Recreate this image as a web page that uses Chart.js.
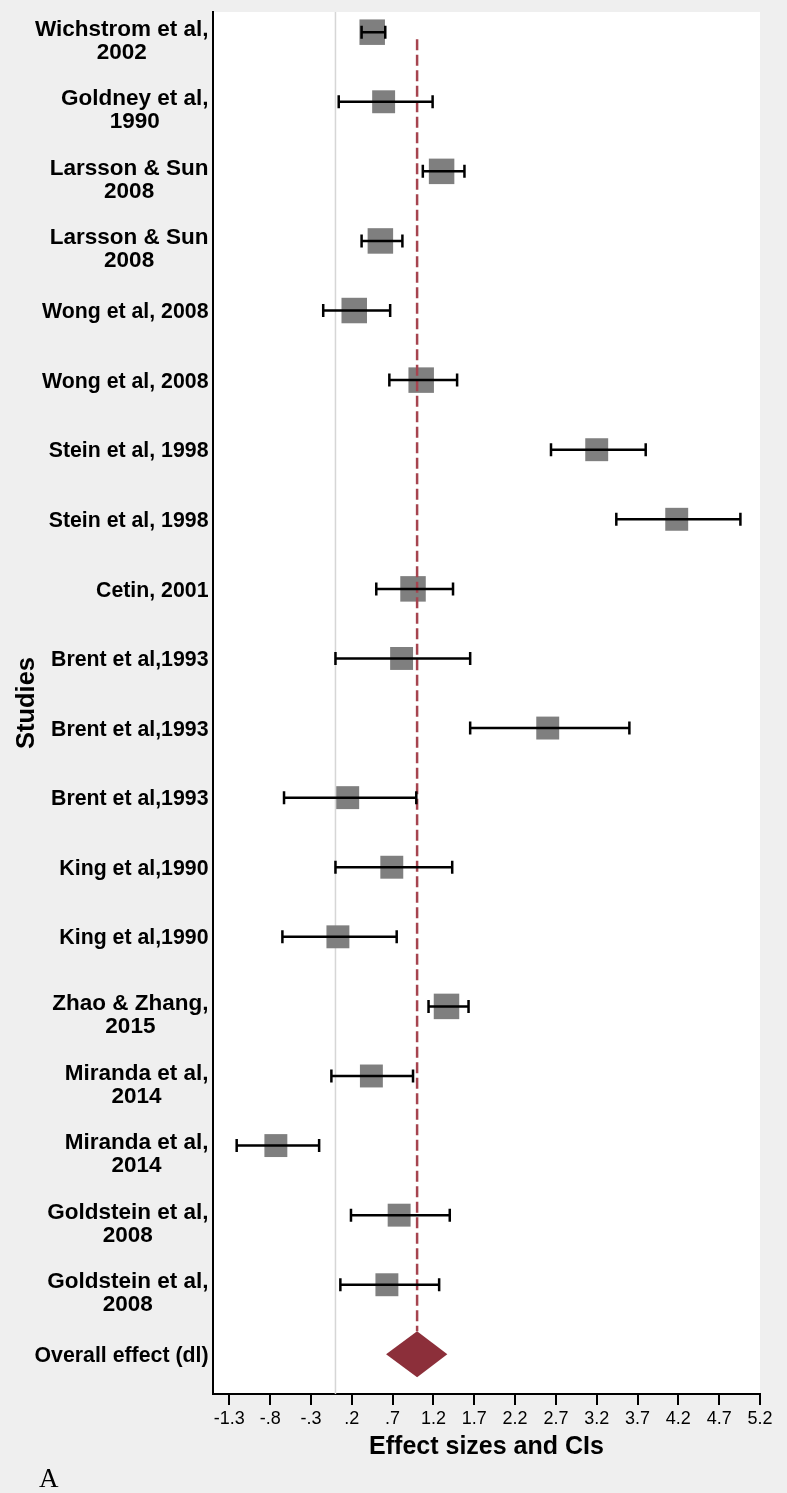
<!DOCTYPE html>
<html>
<head>
<meta charset="utf-8">
<script src="https://cdn.jsdelivr.net/npm/chart.js@4.4.1/dist/chart.umd.min.js"></script>
<style>
  html, body { margin: 0; padding: 0; background: #efefef; }
  #wrap { width: 787px; height: 1493px; }
</style>
</head>
<body>
<div id="wrap"><canvas id="c" width="787" height="1493"></canvas></div>
<script>
// ---------------- DATA ----------------
const studyLabels = [
  ["Wichstrom et al,", "2002"],
  ["Goldney et al,", "1990"],
  ["Larsson & Sun", "2008"],
  ["Larsson & Sun", "2008"],
  ["Wong et al, 2008"],
  ["Wong et al, 2008"],
  ["Stein et al, 1998"],
  ["Stein et al, 1998"],
  ["Cetin, 2001"],
  ["Brent et al,1993"],
  ["Brent et al,1993"],
  ["Brent et al,1993"],
  ["King et al,1990"],
  ["King et al,1990"],
  ["Zhao & Zhang,", "2015"],
  ["Miranda et al,", "2014"],
  ["Miranda et al,", "2014"],
  ["Goldstein et al,", "2008"],
  ["Goldstein et al,", "2008"]
];
const estimates = [0.45, 0.59, 1.30, 0.55, 0.23, 1.05, 3.20, 4.18, 0.95, 0.81, 2.60, 0.15, 0.69, 0.03, 1.36, 0.44, -0.73, 0.78, 0.63];
const lowerCI   = [0.32, 0.04, 1.07, 0.32, -0.15, 0.66, 2.64, 3.44, 0.50, 0.00, 1.65, -0.63, 0.00, -0.65, 1.14, -0.05, -1.21, 0.19, 0.06];
const upperCI   = [0.61, 1.19, 1.58, 0.82, 0.67, 1.49, 3.80, 4.96, 1.44, 1.65, 3.60, 0.99, 1.43, 0.75, 1.63, 0.95, -0.20, 1.40, 1.27];
const weights   = [6.0, 4.85, 6.0, 6.0, 6.0, 6.0, 4.85, 4.85, 6.0, 4.85, 4.85, 4.85, 4.85, 4.85, 6.0, 4.85, 4.85, 4.85, 4.85];

const overallLabel = "Overall effect (dl)";
const overallEstimate = 1.00;
const overallLower = 0.62;
const overallUpper = 1.37;

const xTickValues = [-1.3, -0.8, -0.3, 0.2, 0.7, 1.2, 1.7, 2.2, 2.7, 3.2, 3.7, 4.2, 4.7, 5.2];
const xTickLabels = ["-1.3", "-.8", "-.3", ".2", ".7", "1.2", "1.7", "2.2", "2.7", "3.2", "3.7", "4.2", "4.7", "5.2"];

const xTitle = "Effect sizes and CIs";
const yTitle = "Studies";
const panelLetter = "A";

// ---------------- STYLE ----------------
const SANS = '"Liberation Sans", Arial, Helvetica, sans-serif';
const SERIF = '"Liberation Serif", "Times New Roman", serif';
const boxSide = w => 10.41 * Math.sqrt(w);

const forestPlugin = {
  id: 'forest',
  beforeDraw(chart) {
    const { ctx, chartArea: a, width, height } = chart;
    ctx.save();
    ctx.fillStyle = '#efefef';
    ctx.fillRect(0, 0, width, height);
    ctx.fillStyle = '#ffffff';
    ctx.fillRect(a.left, a.top, a.right - a.left, a.bottom - a.top);
    ctx.restore();
  },
  beforeDatasetsDraw(chart) {
    const { ctx, chartArea: a, scales: { x } } = chart;
    const px = x.getPixelForValue(0);
    ctx.save();
    ctx.strokeStyle = '#d6d6d6';
    ctx.lineWidth = 1.5;
    ctx.beginPath();
    ctx.moveTo(px, a.top);
    ctx.lineTo(px, a.bottom);
    ctx.stroke();
    ctx.restore();
  },
  afterDatasetsDraw(chart) {
    const { ctx, scales: { x, y } } = chart;
    const overallRow = studyLabels.length + 1;
    const halfH = 0.33;

    // dashed line at the overall effect
    ctx.save();
    ctx.strokeStyle = '#a6444f';
    ctx.lineWidth = 2.5;
    ctx.setLineDash([11, 4.5]);
    const rx = x.getPixelForValue(overallEstimate);
    ctx.beginPath();
    ctx.moveTo(rx, y.getPixelForValue(1.1));
    ctx.lineTo(rx, y.getPixelForValue(overallRow - halfH));
    ctx.stroke();
    ctx.restore();

    // confidence-interval whiskers
    ctx.save();
    ctx.strokeStyle = '#000';
    ctx.lineWidth = 2.5;
    estimates.forEach((e, i) => {
      const py = y.getPixelForValue(i + 1);
      const x0 = x.getPixelForValue(lowerCI[i]);
      const x1 = x.getPixelForValue(upperCI[i]);
      ctx.beginPath();
      ctx.moveTo(x0, py); ctx.lineTo(x1, py);
      ctx.moveTo(x0, py - 6.5); ctx.lineTo(x0, py + 6.5);
      ctx.moveTo(x1, py - 6.5); ctx.lineTo(x1, py + 6.5);
      ctx.stroke();
    });
    ctx.restore();

    // overall diamond
    ctx.save();
    ctx.fillStyle = '#8c2f3a';
    const cy = y.getPixelForValue(overallRow);
    ctx.beginPath();
    ctx.moveTo(x.getPixelForValue(overallLower), cy);
    ctx.lineTo(x.getPixelForValue(overallEstimate), y.getPixelForValue(overallRow - halfH));
    ctx.lineTo(x.getPixelForValue(overallUpper), cy);
    ctx.lineTo(x.getPixelForValue(overallEstimate), y.getPixelForValue(overallRow + halfH));
    ctx.closePath();
    ctx.fill();
    ctx.restore();
  },
  afterDraw(chart) {
    const { ctx, chartArea: a, scales: { y } } = chart;
    const right = a.left - 4.5;
    ctx.save();
    ctx.fillStyle = '#000';
    ctx.textAlign = 'center';
    ctx.textBaseline = 'alphabetic';
    const allLabels = studyLabels.concat([[overallLabel]]);
    allLabels.forEach((lines, i) => {
      const fs = lines.length > 1 ? 22.5 : 21.3;
      ctx.font = 'bold ' + fs + 'px ' + SANS;
      const yc = y.getPixelForValue(i + 1);
      const bw = Math.max(...lines.map(l => ctx.measureText(l).width));
      const cx = right - bw / 2;
      lines.forEach((l, j) => {
        const center = lines.length === 1 ? yc : yc - 4.5 + j * 23;
        ctx.fillText(l, cx, center + 0.358 * fs);
      });
    });
    ctx.font = '27px ' + SERIF;
    ctx.textAlign = 'left';
    ctx.fillText(panelLetter, 39, 1487);
    ctx.restore();
  }
};

new Chart(document.getElementById('c'), {
  type: 'scatter',
  data: {
    datasets: [{
      data: estimates.map((v, i) => ({ x: v, y: i + 1 })),
      pointStyle: 'rect',
      pointRadius: c => boxSide(weights[c.dataIndex]) * Math.SQRT1_2,
      pointHoverRadius: c => boxSide(weights[c.dataIndex]) * Math.SQRT1_2,
      backgroundColor: '#7f7f7f',
      borderWidth: 0,
      clip: false
    }]
  },
  plugins: [forestPlugin],
  options: {
    responsive: false,
    devicePixelRatio: 1,
    animation: false,
    events: [],
    layout: { autoPadding: false, padding: { left: 0, right: 27, top: 12, bottom: 0 } },
    plugins: { legend: { display: false }, tooltip: { enabled: false } },
    scales: {
      x: {
        type: 'linear',
        bounds: 'data',
        min: -1.5,
        max: 5.2,
        afterBuildTicks: s => { s.ticks = xTickValues.map(v => ({ value: v })); },
        afterFit: s => { s.height = 99; s.paddingLeft = 0; s.paddingRight = 0; },
        ticks: {
          callback: (v, i) => xTickLabels[i],
          color: '#000',
          font: { family: SANS, size: 18 },
          padding: 3,
          maxRotation: 0,
          autoSkip: false
        },
        grid: {
          display: true,
          drawOnChartArea: false,
          drawTicks: true,
          tickLength: 11,
          tickColor: '#000',
          tickWidth: 2,
          color: '#000',
          lineWidth: 2
        },
        border: { display: true, color: '#000', width: 2 },
        title: {
          display: true,
          text: xTitle,
          color: '#000',
          font: { family: SANS, size: 25, weight: 'bold' },
          padding: { top: 0, bottom: 31 }
        }
      },
      y: {
        type: 'linear',
        reverse: true,
        min: 0.71,
        max: 20.57,
        afterFit: s => { s.width = 213; s.paddingTop = 0; s.paddingBottom = 0; },
        ticks: { display: false },
        grid: { display: false },
        border: { display: true, color: '#000', width: 2 },
        title: {
          display: true,
          text: yTitle,
          color: '#000',
          font: { family: SANS, size: 25.5, weight: 'bold' },
          padding: { top: 11.5, bottom: 0 }
        }
      }
    }
  }
});
</script>
</body>
</html>
